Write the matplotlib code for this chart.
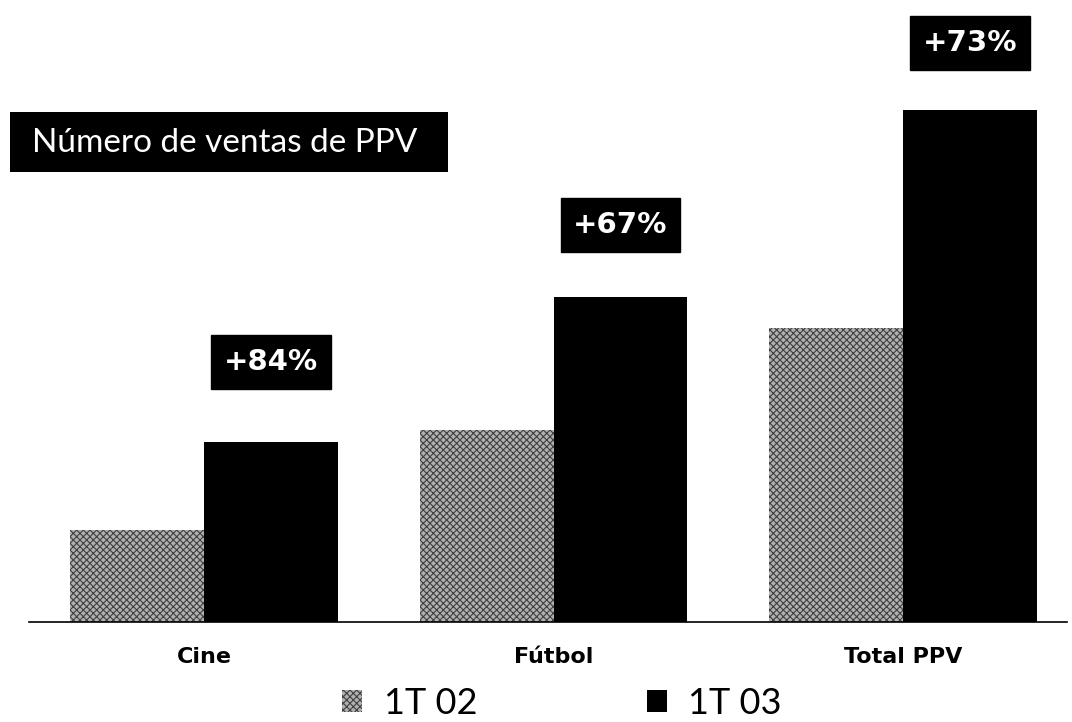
import matplotlib.pyplot as plt
from matplotlib.patches import Patch, Rectangle

# Data (bar heights, arbitrary units)
categories = ['Cine', 'Fútbol', 'Total PPV']
ventas_1t02 = [92, 192, 294]
ventas_1t03 = [180, 325, 512]
growth_labels = ['+84%', '+67%', '+73%']
series_names = ['1T 02', '1T 03']

grey = '#b0b0b0'
hatch_col = '#404040'
label_gap = [80, 72, 67]

fig = plt.figure(figsize=(10.72, 7.22), dpi=100)
ax = fig.add_axes([0, 100 / 722, 1, 622 / 722])

x = list(range(len(categories)))
w = 0.383
plt.rcParams['hatch.linewidth'] = 0.8
ax.bar([i - w / 2 for i in x], ventas_1t02, width=w, color=grey,
       edgecolor=hatch_col, hatch='xxxxx', linewidth=0)
ax.bar([i + w / 2 for i in x], ventas_1t03, width=w, color='black', linewidth=0)

# growth boxes above the 1T 03 bars
for i, v in enumerate(ventas_1t03):
    ax.text(i + w / 2, v + label_gap[i], growth_labels[i], ha='center', va='center',
            color='white', fontsize=21, fontweight='bold', family='DejaVu Sans',
            bbox=dict(boxstyle='square,pad=0.43', fc='black', ec='black'))

ax.set_xlim(-204 / 349.5, (1072 - 204) / 349.5)
ax.set_ylim(0, 622)
ax.set_xticks(x)
ax.set_xticklabels(categories, fontsize=16, fontweight='bold', family='DejaVu Sans')
ax.tick_params(axis='x', length=0, pad=18)
ax.set_yticks([])
for s in ['top', 'right', 'left']:
    ax.spines[s].set_visible(False)
ax.spines['bottom'].set_bounds(-0.5, 2.47)
ax.spines['bottom'].set_linewidth(1.2)
ax.patch.set_visible(False)

# title box
fig.patches.append(Rectangle((10 / 1072, 1 - 172 / 722), 438 / 1072, 60 / 722,
                             transform=fig.transFigure, fc='black', ec='none'))
fig.text(225 / 1072, 1 - 143 / 722, 'Número de ventas de PPV', ha='center', va='center',
         color='white', fontsize=24, family=['Lato', 'DejaVu Sans'])

# legend
handles = [Patch(facecolor=grey, edgecolor=hatch_col, hatch='xxxxx', linewidth=0),
           Patch(facecolor='black', linewidth=0)]
fig.legend(handles, series_names, loc='center', bbox_to_anchor=(562 / 1072, 0.026),
           ncol=2, frameon=False,
           prop={'family': ['Lato', 'DejaVu Sans'], 'size': 26},
           handlelength=0.55, handleheight=0.55, handletextpad=0.6, columnspacing=4.7)

fig.savefig('out.png', dpi=100)
